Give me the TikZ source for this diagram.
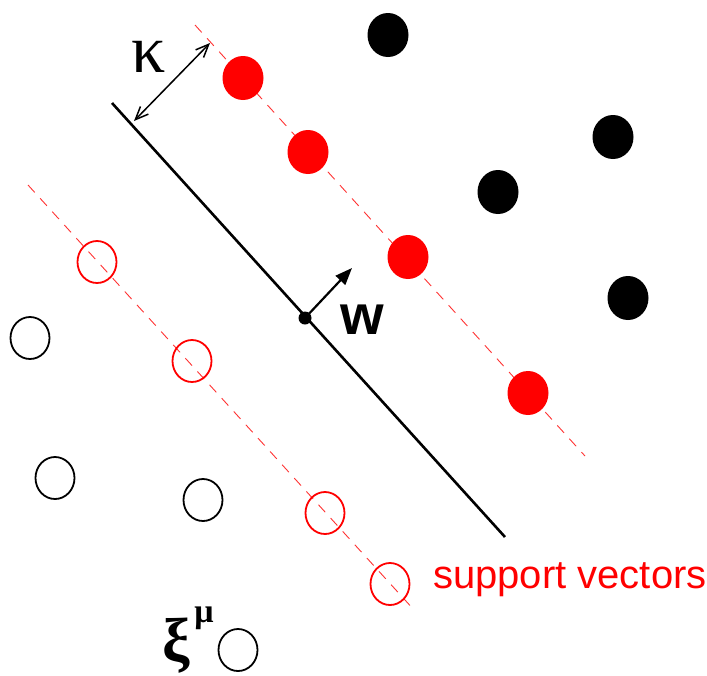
\documentclass[tikz,border=0pt]{standalone}
\usepackage{fontspec}
\setmainfont{Liberation Serif}
\newfontfamily\sansf{Liberation Sans}
\newfontfamily\grk{Liberation Serif}
\usetikzlibrary{arrows.meta,shapes.geometric}
\begin{document}
\begin{tikzpicture}[x=1pt,y=-1pt,
  fullpt/.style={fill=#1,draw=none,shape=ellipse,minimum width=41pt,minimum height=44pt,inner sep=0pt},
  openpt/.style={draw=#1,line width=1.8pt,fill=none,minimum width=39pt,minimum height=42pt,inner sep=0pt,shape=ellipse},
  marginline/.style={red!80,line width=0.9pt,dash pattern=on 10pt off 8pt},
  hyperplane/.style={black,line width=2.6pt},
  lbl/.style={inner sep=0pt,anchor=center}]
\useasboundingbox (0,0) rectangle (707,675);
% dashed margin lines
\coordinate (u1) at (195,25);
\coordinate (u2) at (585,456);
\coordinate (l1) at (28,185);
\coordinate (l2) at (415,611);
\draw[marginline] (u1) -- (u2);
\draw[marginline] (l1) -- (l2);
% hyperplane
\coordinate (h1) at (112,103);
\coordinate (h2) at (505,537);
\draw[hyperplane] (h1) -- (h2);
% points
\node[fullpt=black] (b1) at (388,35) {};
\node[fullpt=black] (b2) at (613,137) {};
\node[fullpt=black] (b3) at (498,192) {};
\node[fullpt=black] (b4) at (628,298) {};
\node[fullpt=red] (r1) at (243,78) {};
\node[fullpt=red] (r2) at (308,152) {};
\node[fullpt=red] (r3) at (408,257) {};
\node[fullpt=red] (r4) at (528,393) {};
\node[openpt=red] (o1) at (97,262) {};
\node[openpt=red] (o2) at (192,361) {};
\node[openpt=red] (o3) at (325,513) {};
\node[openpt=red] (o4) at (390,584) {};
\node[openpt=black] (k1) at (30,338) {};
\node[openpt=black] (k2) at (55,478) {};
\node[openpt=black] (k3) at (203,500) {};
\node[openpt=black] (k4) at (238,650) {};
% kappa arrow
\coordinate (ka) at (134,121);
\coordinate (kb) at (210,43);
\draw[line width=1.5pt,{Straight Barb[length=13pt,width=11pt]}-{Straight Barb[length=13pt,width=11pt]}] (ka) -- (kb);
\node[lbl] (kappa) at (149,57) {\fontsize{68}{68}\selectfont\grk κ};
% w vector
\node[circle,fill=black,inner sep=0pt,minimum size=13pt] (origin) at (305,318) {};
\coordinate (wtip) at (352,268);
\draw[line width=2.2pt,-{Triangle[length=17pt,width=13pt]}] (origin.center) -- (wtip);
\node[lbl] (w) at (362,320) {\fontsize{56}{56}\selectfont\sansf\bfseries w};
% labels
\node[lbl,red] (sv) at (570,580) {\fontsize{40}{40}\selectfont\sansf support vectors};
\node[lbl] (xi) at (176,646) {\fontsize{62}{62}\selectfont\grk\bfseries ξ};
\node[lbl] (mu) at (204,618) {\fontsize{34}{34}\selectfont\grk\bfseries μ};
\end{tikzpicture}
\end{document}
